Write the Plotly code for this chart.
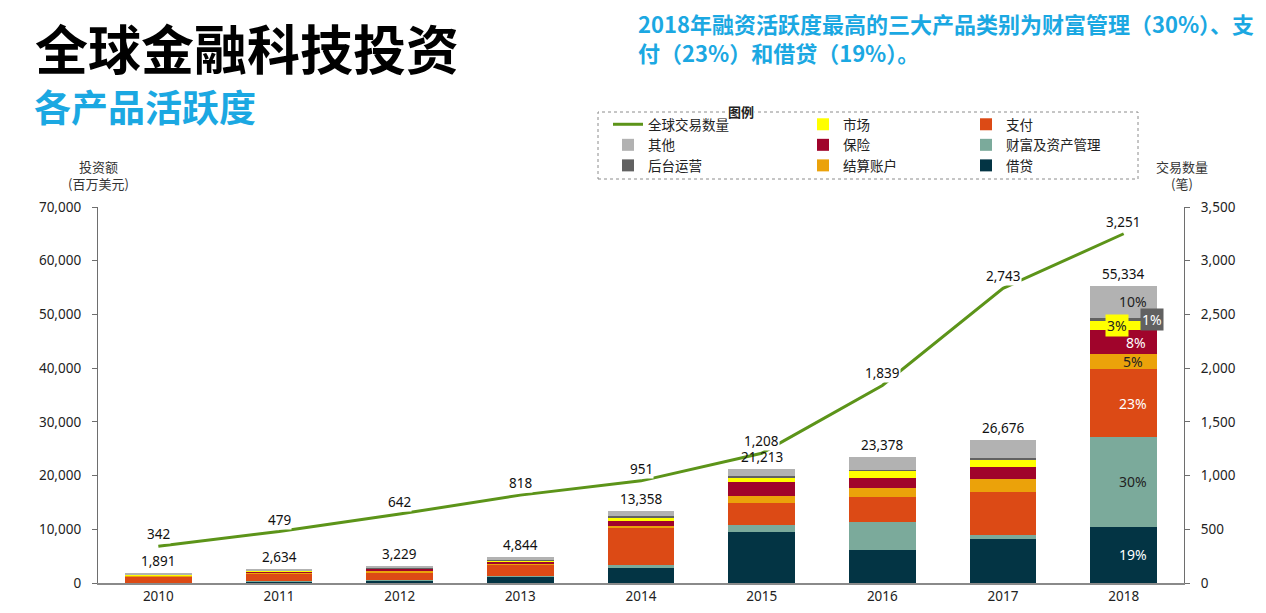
import plotly.graph_objects as go

years = ["2010", "2011", "2012", "2013", "2014", "2015", "2016", "2017", "2018"]

# investment by product (USD million), stacked bottom-up
borrowing   = [50,   250,  400,  1240, 2850, 9440, 6145, 8140, 10500]
wealth      = [30,   60,   100,  150,  560,  1300, 5270, 750,  16650]
payments    = [1150, 1500, 1500, 2100, 6890, 4210, 4660, 8120, 12600]
settlement  = [120,  220,  250,  200,  310,  1250, 1680, 2300, 2900]
insurance   = [100,  80,   450,  250,  990,  2660, 1860, 2350, 4400]
market      = [80,   160,  60,   300,  450,  690,  1240, 1240, 1650]
backoffice  = [60,   64,   150,  100,  430,  370,  190,  320,  700]
others      = [301,  300,  319,  504,  878,  1293, 2333, 3456, 5934]

deal_counts = [342, 479, 642, 818, 951, 1208, 1839, 2743, 3251]

pct_2018_labels = ["19%", "30%", "23%", "5%", "8%", "3%", "1%", "10%"]

FONT = "Noto Sans, Noto Sans CJK SC, sans-serif"
CJK = "Noto Sans CJK SC, sans-serif"
CYAN = "#1BA8E2"
W, H = 1266, 613
L, R, T, B = 98, 82, 207, 30
pw, ph = W - L - R, H - T - B

def px_x(px):   # canvas pixel -> paper fraction
    return (px - L) / pw

def px_y(py):
    return (H - py - B) / ph

series = [
    ("借贷", borrowing, "#033444", "legend3", 3),
    ("财富及资产管理", wealth, "#7BAA9B", "legend3", 2),
    ("支付", payments, "#DC4A15", "legend3", 1),
    ("结算账户", settlement, "#EBA20A", "legend2", 3),
    ("保险", insurance, "#A0042B", "legend2", 2),
    ("市场", market, "#FFFF00", "legend2", 1),
    ("后台运营", backoffice, "#616161", "legend", 3),
    ("其他", others, "#B2B2B2", "legend", 2),
]

fig = go.Figure()
for name, vals, color, leg, rank in series:
    fig.add_trace(go.Bar(
        x=years, y=vals, name=name, marker=dict(color=color, line=dict(width=0)),
        legend=leg, legendrank=rank, hoverinfo="skip",
    ))

totals = [sum(s[1][i] for s in series) for i in range(len(years))]
for i, t in enumerate(totals):
    fig.add_annotation(x=i, y=t, xref="x", yref="y", text=f"{t:,}", showarrow=False,
                       yshift=12, font=dict(family=FONT, size=13.5, color="#111111"))

fig.add_trace(go.Scatter(
    x=years, y=deal_counts, name="全球交易数量", mode="lines", yaxis="y2",
    line=dict(color="#5C9419", width=3), legend="legend", legendrank=1,
    hoverinfo="skip",
))

# line value labels (x given as category index)
for i, c in enumerate(deal_counts):
    fig.add_annotation(x=i, y=c, xref="x", yref="y2", text=f"{c:,}", showarrow=False,
                       yshift=12, bgcolor="white", borderpad=0,
                       font=dict(family=FONT, size=13.5, color="#111111"))

# 2018 percentage labels
i18 = years.index("2018")
cum = 0
pct_style = [
    ("white", None, 9), ("#222222", None, 9), ("white", None, 9), ("#222222", None, 9),
    ("white", None, 12), ("#222222", "#FFFF00", -7), ("white", "#616161", 28), ("#222222", None, 9),
]
for (name, vals, color, leg, rank), lab, (fc, bg, xs) in zip(series, pct_2018_labels, pct_style):
    v = vals[i18]
    mid = cum + v / 2
    cum += v
    fig.add_annotation(x=i18, y=mid, xref="x", yref="y", text=lab, showarrow=False, xshift=xs,
                       bgcolor=bg if bg else "rgba(0,0,0,0)", borderpad=1,
                       font=dict(family=FONT, size=14, color=fc))

# titles
texts = [
    ("<b>全球金融科技投资</b>", 33, 47, 53, "#000000"),
    ("<b>各产品活跃度</b>", 32, 106, 37, CYAN),
    ("<b>2018年融资活跃度最高的三大产品类别为财富管理（30%）、支<br>付（23%）和借贷（19%）。</b>",
     636, 37.5, 22, CYAN),
]
for t, px, py, size, color in texts:
    fig.add_annotation(xref="paper", yref="paper", x=px_x(px), y=px_y(py), text=t,
                       showarrow=False, xanchor="left", yanchor="middle", align="left",
                       font=dict(family=CJK, size=size, color=color))

# axis titles
for t, px, py in [("投资额", 98, 166), ("(百万美元)", 98, 183), ("交易数量", 1182, 166), ("(笔)", 1182, 183)]:
    fig.add_annotation(xref="paper", yref="paper", x=px_x(px), y=px_y(py), text=t,
                       showarrow=False, xanchor="center", yanchor="middle",
                       font=dict(family=CJK, size=13, color="#333333"))

# legend frame and title
fig.add_shape(type="rect", xref="paper", yref="paper",
              x0=px_x(598), x1=px_x(1138), y0=px_y(179), y1=px_y(112),
              line=dict(color="#8C8C8C", width=1, dash="dot"), fillcolor="rgba(0,0,0,0)")
fig.add_annotation(xref="paper", yref="paper", x=px_x(741), y=px_y(111), text="<b>图例</b>",
                   showarrow=False, bgcolor="white", borderpad=0, xanchor="center",
                   yanchor="middle", font=dict(family=CJK, size=13, color="#222222"))

leg_common = dict(xref="container", yref="container", xanchor="left", yanchor="top",
                  bgcolor="rgba(0,0,0,0)", borderwidth=0, traceorder="normal",
                  tracegroupgap=0, itemwidth=30, orientation="v",
                  font=dict(family=CJK, size=13.5, color="#222222"),
                  itemclick=False, itemdoubleclick=False)

ly = 1 - 109 / H
fig.update_layout(
    width=W, height=H,
    margin=dict(l=L, r=R, t=T, b=B, autoexpand=False),
    paper_bgcolor="white", plot_bgcolor="white",
    barmode="stack", bargap=0.445,
    font=dict(family=FONT, size=13.5, color="#222222"),
    showlegend=True,
    legend=dict(x=608 / W, y=ly, **leg_common),
    legend2=dict(x=803 / W, y=ly, **leg_common),
    legend3=dict(x=966 / W, y=ly, **leg_common),
    xaxis=dict(type="category", range=[-0.5, len(years) - 0.5], showline=True,
               linecolor="#8A8A8A", linewidth=2, ticks="",
               tickfont=dict(family=FONT, size=13.5, color="#222222"), fixedrange=True),
    yaxis=dict(range=[0, 70000], dtick=10000, tickformat=",", showgrid=False, zeroline=False,
               showline=True, linecolor="#6E6E6E", linewidth=1.3, ticks="outside", ticklen=5,
               tickcolor="#6E6E6E", ticklabelstandoff=8,
               tickfont=dict(family=FONT, size=13.5, color="#222222"), fixedrange=True),
    yaxis2=dict(range=[0, 3500], dtick=500, tickformat=",", overlaying="y", side="right",
                showgrid=False, zeroline=False, showline=True, linecolor="#6E6E6E",
                linewidth=1.3, ticks="outside", ticklen=5, tickcolor="#6E6E6E",
                ticklabelstandoff=8,
                tickfont=dict(family=FONT, size=13.5, color="#222222"), fixedrange=True),
)

fig.write_html("out.html", config={"displayModeBar": False},
               post_script="document.body.style.margin='0';")
